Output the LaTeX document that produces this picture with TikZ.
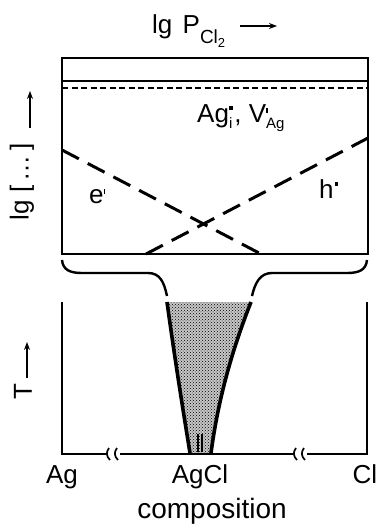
\documentclass[tikz,border=0pt]{standalone}
\usepackage{fontspec}
\setmainfont{Liberation Sans}
\usetikzlibrary{arrows.meta,patterns}
\newcommand{\fsz}[1]{\fontsize{#1}{#1}\selectfont}
\newcommand{\dsup}[1]{\raisebox{9pt}{\fsz{15}#1}}
\newcommand{\dsub}[1]{\raisebox{-6pt}{\fsz{15}#1}}
\newcommand{\dprime}{\rule{1.6pt}{5pt}}
\newcommand{\mydot}{\raisebox{12pt}{\rule{3.6pt}{3.6pt}}}
\begin{document}
\begin{tikzpicture}[x=1pt,y=-1pt,
  lab/.style={inner sep=0pt, font=\fsz{26}},
  frame/.style={line width=2pt},
  axis/.style={line width=2.4pt},
  dline/.style={line width=3pt, dash pattern=on 19pt off 10pt},
  arr/.style={line width=2pt, -{Stealth[length=8pt,width=6pt]}},
  edge/.style={line width=3.6pt}
]
\useasboundingbox (0,0) rectangle (378,525);
% title
\node[lab, anchor=base west] (title) at (152,33) {lg\hspace{3pt} P\raisebox{-10pt}{\fsz{19}Cl\raisebox{-4pt}{\fsz{13}2}}};
\coordinate (ta1) at (240,26); \coordinate (ta2) at (277,26);
\draw[arr] (ta1) -- (ta2);
% top box
\draw[frame] (62,58) rectangle (368,254);
\draw[line width=2.6pt] (62,81) -- (368,81);
\draw[line width=2.6pt, dash pattern=on 6pt off 3.5pt] (62,88) -- (368,88);
\node[lab, anchor=base west] (defects) at (197,122)
  {Ag\rlap{\mydot}\dsub{i}\kern2pt, V\rlap{\dsup{\dprime}}\dsub{Ag}};
\draw[dline] (62,150) -- (261,254);
\draw[dline] (146,254) -- (368,138);
\node[lab, anchor=base west] (el) at (89,203) {e\dsup{\dprime}};
\node[lab, anchor=base west] (ho) at (319,198) {h\kern1pt\mydot};
% left rotated label
\node[lab, rotate=90] (lglab) at (22,182) {lg [\,…\,]};
\coordinate (la1) at (30,128); \coordinate (la2) at (30,91);
\draw[arr] (la1) -- (la2);
% brace
\draw[line width=2.4pt] (62,260) .. controls (63,270) and (70,273) .. (82,273) -- (148,273)
  .. controls (160,273) and (164,282) .. (167,296);
\draw[line width=2.4pt] (367,260) .. controls (366,270) and (359,273) .. (347,273) -- (272,273)
  .. controls (260,273) and (255,283) .. (252,296);
% lower diagram
\fill[black!22] (167,302) .. controls (175,360) and (183,410) .. (190,453)
  -- (211,453) .. controls (218,400) and (232,350) .. (251,302) -- cycle;
\fill[pattern=crosshatch dots] (167,302) .. controls (175,360) and (183,410) .. (190,453)
  -- (211,453) .. controls (218,400) and (232,350) .. (251,302) -- cycle;
\draw[edge] (167,302) .. controls (175,360) and (183,410) .. (190,453);
\draw[edge] (251,302) .. controls (232,350) and (218,400) .. (211,453);
\draw[line width=1.5pt] (198,434) -- (198,452) (202,434) -- (202,452);
\draw[axis] (62,302) -- (62,454) -- (108,454);
\draw[axis] (120,454) -- (295,454);
\draw[axis] (307,454) -- (367,454) -- (367,302);
\foreach \bx in {109,117,296,304}
  \draw[line width=1.7pt] (\bx,448) .. controls (\bx-3,452) and (\bx-3,456) .. (\bx+1,460);
\node[lab, rotate=90] (tlab) at (23,392) {T};
\coordinate (tb1) at (27,378); \coordinate (tb2) at (27,342);
\draw[arr] (tb1) -- (tb2);
\node[lab, anchor=base] (ag) at (62,483) {Ag};
\node[lab, anchor=base] (agcl) at (200,483) {AgCl};
\node[lab, anchor=base] (cl) at (365,483) {Cl};
\node[lab, anchor=base, font=\fsz{28}] (comp) at (212,518) {composition};
\end{tikzpicture}
\end{document}
